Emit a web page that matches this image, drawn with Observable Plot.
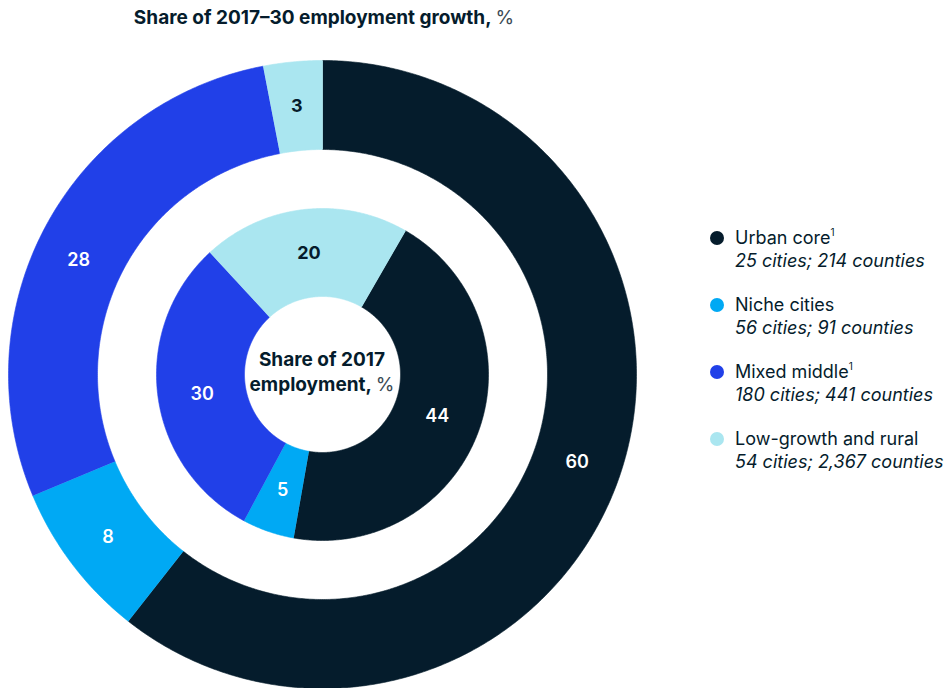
<!DOCTYPE html>
<html>
<head>
<meta charset="utf-8">
<script src="https://cdn.jsdelivr.net/npm/d3@7"></script>
<script src="https://cdn.jsdelivr.net/npm/@observablehq/plot@0.6"></script>
<style>
  html, body { margin: 0; padding: 0; background: #fff; }
  #wrap { position: relative; width: 946px; height: 688px; font-family: Inter, "Noto Sans", sans-serif; color: #051c2c; overflow: hidden; }
  #wrap svg { position: absolute; left: 0; top: 0; }
  .title { position: absolute; left: 0; width: 648px; top: 6px; text-align: center; font-size: 19px; font-weight: 700; letter-spacing: 0px; }
  .title .u, .center .u { font-weight: 400; color: #3b4a55; }
  .center { position: absolute; left: 212px; width: 220px; top: 347px; text-align: center; font-size: 19px; font-weight: 700; line-height: 25px; }
  .legend { position: absolute; left: 709px; top: 226px; }
  .item { position: relative; padding-left: 26px; font-size: 18px; line-height: 23px; margin-bottom: 21px; font-weight: 400; }
  .item .dot { position: absolute; left: 1px; top: 5px; width: 14px; height: 14px; border-radius: 50%; }
  .item i { display: block; }
  .item sup { font-size: 10px; vertical-align: 8px; line-height: 0; }
</style>
</head>
<body>
<div id="wrap"></div>
<script>
// ---- data ----
const categories = ["Urban core", "Niche cities", "Mixed middle", "Low-growth and rural"];
const growthShare = [60, 8, 28, 3];        // outer ring: share of 2017–30 employment growth, %
const employmentShare = [44, 5, 30, 20];   // inner ring: share of 2017 employment, %
const counts = ["25 cities; 214 counties", "56 cities; 91 counties", "180 cities; 441 counties", "54 cities; 2,367 counties"];
const footnote = ["1", "", "1", ""];
const titleText = "Share of 2017–30 employment growth,";
const centerText = ["Share of 2017", "employment,"];

// ---- style / layout ----
const colors = ["#051c2c", "#00a9f4", "#2140e8", "#aae6f0"];
const labelColors = ["#ffffff", "#ffffff", "#ffffff", "#051c2c"];
const cx = 322, cy = 374, R = 314;
const rings = [
  {values: growthShare, r0: 225 / R, r1: 1, start: 0, labelShift: [0, 0, -3, 0]},
  {values: employmentShare, r0: 78 / R, r1: 166 / R, start: 30, labelShift: [0, 0, -2, 0]}
];

const rad = Math.PI / 180;
const pts = [];
const labels = [];
rings.forEach((ring, ri) => {
  const total = d3.sum(ring.values);
  let a = ring.start;
  ring.values.forEach((v, i) => {
    const span = v / total * 360;
    const a0 = a, a1 = a + span;
    const n = Math.max(2, Math.ceil(span / 0.5));
    const id = ri + "-" + i;
    for (let k = 0; k <= n; k++) {
      const t = (a0 + (a1 - a0) * k / n) * rad;
      pts.push({id, cat: categories[i], x: ring.r1 * Math.sin(t), y: ring.r1 * Math.cos(t)});
    }
    for (let k = n; k >= 0; k--) {
      const t = (a0 + (a1 - a0) * k / n) * rad;
      pts.push({id, cat: categories[i], x: ring.r0 * Math.sin(t), y: ring.r0 * Math.cos(t)});
    }
    const tm = ((a0 + a1) / 2 + ring.labelShift[i]) * rad, rm = (ring.r0 + ring.r1) / 2;
    labels.push({text: String(v), x: rm * Math.sin(tm), y: rm * Math.cos(tm), color: labelColors[i]});
    a = a1;
  });
});

const chart = Plot.plot({
  width: 946,
  height: 688,
  margin: 0,
  x: {domain: [-1, 1], range: [cx - R, cx + R], axis: null},
  y: {domain: [-1, 1], range: [cy + R, cy - R], axis: null},
  color: {domain: categories, range: colors},
  style: {background: "transparent", overflow: "visible"},
  marks: [
    Plot.line(pts, {x: "x", y: "y", z: "id", fill: "cat", stroke: "cat", strokeWidth: 0.6, curve: "linear"}),
    Plot.text(labels.filter(d => d.color === "#ffffff"), {x: "x", y: "y", text: "text", fill: "#ffffff", fontSize: 18, fontWeight: 600, fontFamily: "Inter, sans-serif"}),
    Plot.text(labels.filter(d => d.color !== "#ffffff"), {x: "x", y: "y", text: "text", fill: "#051c2c", fontSize: 18, fontWeight: 700, fontFamily: "Inter, sans-serif"})
  ]
});

const wrap = document.getElementById("wrap");
wrap.appendChild(chart);

const title = document.createElement("div");
title.className = "title";
title.innerHTML = titleText + ' <span class="u">%</span>';
wrap.appendChild(title);

const center = document.createElement("div");
center.className = "center";
center.innerHTML = centerText[0] + "<br>" + centerText[1] + ' <span class="u">%</span>';
wrap.appendChild(center);

const legend = document.createElement("div");
legend.className = "legend";
categories.forEach((c, i) => {
  const it = document.createElement("div");
  it.className = "item";
  it.innerHTML = '<span class="dot" style="background:' + colors[i] + '"></span>' + c +
    (footnote[i] ? "<sup>" + footnote[i] + "</sup>" : "") + "<i>" + counts[i] + "</i>";
  legend.appendChild(it);
});
wrap.appendChild(legend);
</script>
</body>
</html>
